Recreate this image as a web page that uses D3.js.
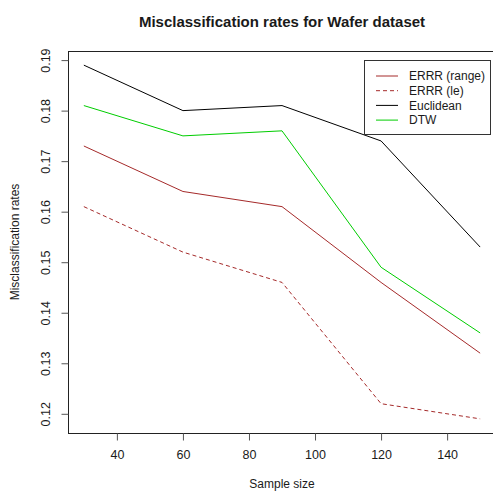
<!DOCTYPE html>
<html>
<head>
<meta charset="utf-8">
<script src="https://cdn.jsdelivr.net/npm/d3@7"></script>
<style>
  body { margin: 0; background: #fff; }
  text { font-family: "Liberation Sans", Arial, sans-serif; fill: #1a1a1a; }
</style>
</head>
<body>
<script>
var width = 493,
    height = 493;

// data
var sampleSizes = [30, 60, 90, 120, 150];
var errrRange = [0.173, 0.164, 0.161, 0.146, 0.132];
var errrLe    = [0.161, 0.152, 0.146, 0.122, 0.119];
var euclidean = [0.189, 0.180, 0.181, 0.174, 0.153];
var dtw       = [0.181, 0.175, 0.176, 0.149, 0.136];
var xTicks = [40, 60, 80, 100, 120, 140];
var yTicks = [0.12, 0.13, 0.14, 0.15, 0.16, 0.17, 0.18, 0.19];

var series = [
    { name: "ERRR (range)", values: errrRange, color: "#a52a2a", dash: null },
    { name: "ERRR (le)",    values: errrLe,    color: "#a52a2a", dash: "4,3" },
    { name: "Euclidean",    values: euclidean, color: "#000000", dash: null },
    { name: "DTW",          values: dtw,       color: "#00cd00", dash: null }
];

var margin = { left: 68, right: -3, top: 51, bottom: 60 };

// R style 4% padding on both axes
function pad(ext) {
    var d = (ext[1] - ext[0]) * 0.04;
    return [ext[0] - d, ext[1] + d];
}
var allY = [].concat(errrRange, errrLe, euclidean, dtw);

var x = d3.scaleLinear()
    .domain(pad(d3.extent(sampleSizes)))
    .range([margin.left, width - margin.right]);
var y = d3.scaleLinear()
    .domain(pad(d3.extent(allY)))
    .range([height - margin.bottom, margin.top]);

var svg = d3.select("body").append("svg")
    .attr("width", width)
    .attr("height", height);

// lines
var line = d3.line()
    .x(function (d, i) { return x(sampleSizes[i]); })
    .y(function (d) { return y(d); });

svg.selectAll(".series")
    .data(series)
    .enter().append("path")
    .attr("class", "series")
    .attr("d", function (d) { return line(d.values); })
    .attr("fill", "none")
    .attr("stroke", function (d) { return d.color; })
    .attr("stroke-width", 1)
    .attr("stroke-dasharray", function (d) { return d.dash; });

// box
svg.append("rect")
    .attr("x", margin.left + 0.5)
    .attr("y", margin.top + 0.5)
    .attr("width", width - margin.right - margin.left)
    .attr("height", height - margin.bottom - margin.top)
    .attr("fill", "none")
    .attr("stroke", "#222");

// axes
var xAxis = svg.append("g")
    .attr("transform", "translate(0," + (height - margin.bottom + 0.5) + ")")
    .call(d3.axisBottom(x).tickValues(xTicks).tickSize(7).tickPadding(10));
xAxis.select(".domain").remove();
xAxis.selectAll("text").style("font-size", "12.5px").style("fill", "#1a1a1a")
    .style("font-family", "Liberation Sans, Arial, sans-serif");
xAxis.selectAll("line").attr("stroke", "#555");

var yAxis = svg.append("g")
    .attr("transform", "translate(" + (margin.left + 0.5) + ",0)")
    .call(d3.axisLeft(y).tickValues(yTicks).tickSize(7).tickFormat(d3.format(".2f")));
yAxis.select(".domain").remove();
yAxis.selectAll("line").attr("stroke", "#555");
yAxis.selectAll("text")
    .attr("x", null).attr("dy", null)
    .attr("text-anchor", "middle")
    .attr("transform", "translate(-19,0) rotate(-90)")
    .style("font-size", "12.5px").style("fill", "#1a1a1a")
    .style("font-family", "Liberation Sans, Arial, sans-serif");

// titles
svg.append("text")
    .attr("x", 282).attr("y", 27)
    .attr("text-anchor", "middle")
    .style("font-size", "15px").style("font-weight", "bold")
    .text("Misclassification rates for Wafer dataset");

svg.append("text")
    .attr("x", 282).attr("y", 488)
    .attr("text-anchor", "middle")
    .style("font-size", "12px")
    .text("Sample size");

svg.append("text")
    .attr("transform", "translate(19," + ((margin.top + height - margin.bottom) / 2) + ") rotate(-90)")
    .attr("text-anchor", "middle")
    .style("font-size", "12px")
    .text("Misclassification rates");

// legend
var legend = svg.append("g").attr("transform", "translate(364,60)");
legend.append("rect")
    .attr("x", 0.5).attr("y", 0.5)
    .attr("width", 126).attr("height", 74)
    .attr("fill", "#fff")
    .attr("stroke", "#333");
var item = legend.selectAll(".item")
    .data(series)
    .enter().append("g")
    .attr("class", "item")
    .attr("transform", function (d, i) { return "translate(0," + (16 + i * 14.7) + ")"; });
item.append("line")
    .attr("x1", 12).attr("x2", 34)
    .attr("stroke", function (d) { return d.color; })
    .attr("stroke-dasharray", function (d) { return d.dash; });
item.append("text")
    .attr("x", 45).attr("dy", "0.35em")
    .style("font-size", "12px")
    .text(function (d) { return d.name; });
</script>
</body>
</html>
